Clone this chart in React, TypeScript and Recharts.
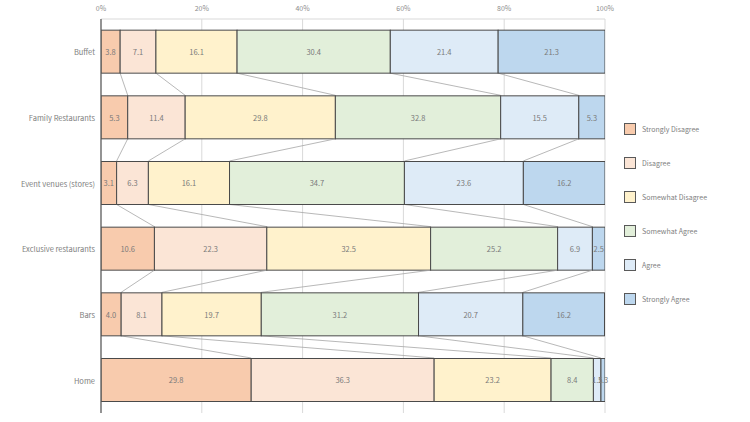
import React from "react";
import { BarChart, Bar, XAxis, YAxis, CartesianGrid, LabelList } from "recharts";

// 100% stacked survey results, one row per venue type
const categories = [
  "Buffet",
  "Family Restaurants",
  "Event venues (stores)",
  "Exclusive restaurants",
  "Bars",
  "Home",
];
const stronglyDisagree = [3.8, 5.3, 3.1, 10.6, 4.0, 29.8];
const disagree = [7.1, 11.4, 6.3, 22.3, 8.1, 36.3];
const somewhatDisagree = [16.1, 29.8, 16.1, 32.5, 19.7, 23.2];
const somewhatAgree = [30.4, 32.8, 34.7, 25.2, 31.2, 8.4];
const agree = [21.4, 15.5, 23.6, 6.9, 20.7, 1.5];
const stronglyAgree = [21.3, 5.3, 16.2, 2.5, 16.2, 1.3];
const xTicks = [0, 20, 40, 60, 80, 100];

const FONT = '"Noto Sans CJK JP", "Noto Sans", sans-serif';
const GAP = 0.17; // share of each band left empty above and below a bar

const SERIES = [
  { key: "sd", name: "Strongly Disagree", values: stronglyDisagree, color: "#f8cbad" },
  { key: "d", name: "Disagree", values: disagree, color: "#fbe5d6" },
  { key: "swd", name: "Somewhat Disagree", values: somewhatDisagree, color: "#fff2cc" },
  { key: "swa", name: "Somewhat Agree", values: somewhatAgree, color: "#e2efda" },
  { key: "a", name: "Agree", values: agree, color: "#deebf7" },
  { key: "sa", name: "Strongly Agree", values: stronglyAgree, color: "#bdd7ee" },
];

const data = categories.map((name, i) => {
  const row: Record<string, string | number> = { name };
  SERIES.forEach((s) => {
    row[s.key] = s.values[i];
  });
  return row;
});

function cumulative(row: number, upTo: number) {
  let sum = 0;
  for (let k = 0; k < upTo; k++) sum += SERIES[k].values[row];
  return sum;
}

// segment rect plus the Excel-like series line to the same edge in the next row
function makeSegment(k: number) {
  return function Segment(props: any) {
    const { x, y, width, height, index, fill } = props;
    const val = SERIES[k].values[index];
    let link = null;
    if (k < SERIES.length - 1 && index < categories.length - 1 && val > 0) {
      const unit = width / val;
      const left = x - cumulative(index, k) * unit;
      const band = height / (1 - 2 * GAP);
      link = (
        <line
          x1={x + width}
          y1={y + height}
          x2={left + cumulative(index + 1, k + 1) * unit}
          y2={y + band}
          stroke="#a6a6a6"
          strokeWidth={0.8}
        />
      );
    }
    return (
      <g>
        <rect x={x} y={y} width={width} height={height} fill={fill} stroke="#4a4a4a" strokeWidth={1} />
        {link}
      </g>
    );
  };
}

function SegmentLabel(props: any) {
  const { x, y, width, height, value } = props;
  if (value == null) return null;
  return (
    <text
      x={x + width / 2}
      y={y + height / 2}
      textAnchor="middle"
      dominantBaseline="central"
      fontSize={7.5}
      fontFamily={FONT}
      fill="#7a7a7a"
    >
      {Number(value).toFixed(1)}
    </text>
  );
}

function CategoryTick(props: any) {
  const { x, y, payload } = props;
  return (
    <text
      x={x}
      y={y}
      textAnchor="end"
      dominantBaseline="central"
      fontSize={7.5}
      fontFamily={FONT}
      fill="#808080"
    >
      {payload.value}
    </text>
  );
}

function LegendBox() {
  return (
    <div style={{ position: "absolute", left: 624, top: 123, fontFamily: FONT }}>
      {SERIES.map((s) => (
        <div
          key={s.key}
          style={{ display: "flex", alignItems: "center", height: 12, marginBottom: 22 }}
        >
          <span
            style={{
              display: "inline-block",
              width: 12,
              height: 12,
              boxSizing: "border-box",
              border: "1px solid #595959",
              backgroundColor: s.color,
            }}
          />
          <span style={{ marginLeft: 6, fontSize: 7, color: "#808080" }}>{s.name}</span>
        </div>
      ))}
    </div>
  );
}

export default function App() {
  return (
    <div style={{ position: "absolute", left: 0, top: 0, width: 750, height: 422 }}>
      <BarChart
        width={750}
        height={422}
        data={data}
        layout="vertical"
        margin={{ top: 0, right: 145, bottom: 9, left: 0 }}
        barCategoryGap={`${GAP * 100}%`}
      >
        <CartesianGrid horizontal={false} stroke="#d9d9d9" />
        <XAxis
          type="number"
          orientation="top"
          domain={[0, 100]}
          allowDataOverflow
          ticks={xTicks}
          tickFormatter={(v) => `${v}%`}
          height={19}
          axisLine={{ stroke: "#d9d9d9" }}
          tickLine={false}
          tickSize={6}
          tickMargin={2}
          tick={{ fontSize: 7, fill: "#8c8c8c", fontFamily: FONT }}
        />
        <YAxis
          type="category"
          dataKey="name"
          width={101}
          axisLine={{ stroke: "#595959", strokeWidth: 1.2 }}
          tickLine={false}
          tickSize={6}
          tickMargin={0}
          tick={<CategoryTick />}
        />
        {SERIES.map((s, k) => (
          <Bar
            key={s.key}
            dataKey={s.key}
            name={s.name}
            stackId="all"
            fill={s.color}
            shape={makeSegment(k)}
            isAnimationActive={false}
          >
            <LabelList dataKey={s.key} content={<SegmentLabel />} />
          </Bar>
        ))}
      </BarChart>
      <LegendBox />
    </div>
  );
}
